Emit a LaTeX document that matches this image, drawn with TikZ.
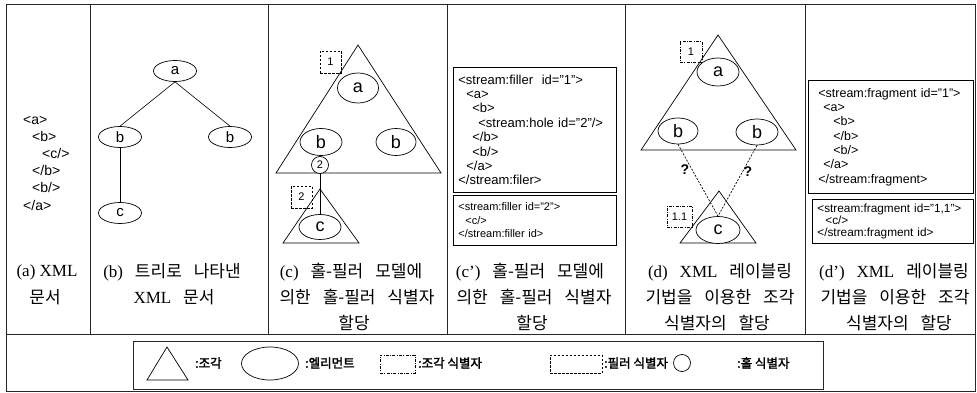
\documentclass[tikz,border=0pt]{standalone}
\usepackage{fontspec}
\setmainfont{Liberation Serif}
\setsansfont{Liberation Sans}
\newfontfamily\kr{Noto Sans CJK KR}
\newfontfamily\krbold{Noto Sans CJK KR}[FakeBold=2]
\usetikzlibrary{shapes.geometric}
\newcommand\capfnt{\fontsize{17}{20}\selectfont}
\newcommand\ks{\hspace{0.7em}}
\newcommand\kc[1]{{\kr #1}}
\tikzset{
  frameline/.style={line width=1pt, black!85},
  elem/.style={draw, ellipse, fill=white, inner sep=0pt, line width=0.7pt, font=\sffamily\fontsize{18}{18}\selectfont},
  smallelem/.style={elem, font=\sffamily\fontsize{15}{15}\selectfont},
  hole/.style={draw, circle, fill=white, inner sep=0pt, minimum size=17pt, line width=0.7pt, font=\sffamily\fontsize{11}{11}\selectfont},
  fillerid/.style={draw, dash pattern=on 2.5pt off 1.5pt, inner sep=0pt, line width=0.6pt, font=\sffamily\fontsize{11}{11}\selectfont},
  fragid/.style={draw, dash pattern=on 3pt off 1.3pt on 1pt off 1.3pt, inner sep=0pt, line width=0.6pt, font=\sffamily\fontsize{11}{11}\selectfont},
  frag/.style={line width=0.7pt, line join=miter},
  codebox/.style={draw, line width=0.8pt, anchor=north west, align=left, inner ysep=0pt},
  captext/.style={inner sep=0pt, font=\capfnt},
  legtext/.style={anchor=west, inner sep=0pt, font=\krbold\fontsize{12.5}{12.5}\selectfont},
  qmark/.style={font=\sffamily\bfseries\fontsize{14}{14}\selectfont, inner sep=0pt},
  xmltext/.style={anchor=west, align=left, inner sep=0pt, font=\sffamily\fontsize{14}{17.2}\selectfont},
  treeline/.style={line width=0.6pt},
  guessline/.style={line width=0.7pt, dash pattern=on 2pt off 1.5pt},
}
\begin{document}
\begin{tikzpicture}[x=1pt,y=-1pt]
\useasboundingbox (0,0) rectangle (977,393);
\fill[white] (0,0) rectangle (977,393);
% frame
\draw[frameline] (6,5) rectangle (975,391);
\draw[frameline] (6,334) -- (975,334);
\foreach \x in {90,268,447,625,805} \draw[frameline] (\x,5) -- (\x,334);

% (a)
\node[xmltext] (xa) at (23,163) {<a>\\\hspace*{9pt}<b>\\\hspace*{19pt}<c/>\\\hspace*{9pt}</b>\\\hspace*{9pt}<b/>\\</a>};
\node[captext] (capa1) at (47,272) {(a) XML};
\node[captext] (capa2) at (45,297) {\kc{문서}};

% (b)
\node[smallelem, minimum width=43pt, minimum height=21pt] (ba) at (175,71) {a};
\node[smallelem, minimum width=43pt, minimum height=21pt] (bb1) at (120,137) {b};
\node[smallelem, minimum width=43pt, minimum height=21pt] (bb2) at (230,137) {b};
\node[smallelem, minimum width=43pt, minimum height=21pt] (bc) at (120,213) {c};
\draw[treeline] (ba.south) -- (bb1.north);
\draw[treeline] (ba.south) -- (bb2.north);
\draw[treeline] (bb1.south) -- (bc.north);
\node[captext] (capb1) at (172,272) {(b)\ks\kc{트리로\ks 나타낸}};
\node[captext] (capb2) at (174,297) {XML\ks\kc{문서}};

% (c)
\draw[frag] (358,45) -- (276,173) -- (441,173) -- cycle;
\draw[frag] (320,189) -- (283,243) -- (359,243) -- cycle;
\node[fillerid, minimum width=21pt, minimum height=22pt] (cf1) at (330.5,62) {1};
\node[fillerid, minimum width=21pt, minimum height=22pt] (cf2) at (301.5,197) {2};
\node[elem, minimum width=41pt, minimum height=30pt] (ca) at (358,88) {a};
\node[elem, minimum width=42pt, minimum height=27pt] (cb1) at (321,142) {b};
\node[elem, minimum width=40pt, minimum height=27pt] (cb2) at (396,142) {b};
\node[elem, minimum width=42pt, minimum height=25pt] (cc) at (320,227) {c};
\node[hole] (ch) at (320,165) {2};
\draw[treeline] (ch.south) -- (cc.north);
\node[captext] (capc1) at (351,272) {(c)\ks\kc{홀-필러\ks 모델에}};
\node[captext] (capc2) at (357,297) {\kc{의한\ks 홀-필러\ks 식별자}};
\node[captext] (capc3) at (354,323) {\kc{할당}};

% (c')
\node[codebox, inner xsep=5pt, text width=153pt, minimum height=125pt, font=\sffamily\fontsize{13}{14.4}\selectfont] (cp1) at (453,67)
 {<stream:filler\ \ id="1">\\\hspace*{8pt}<a>\\\hspace*{14pt}<b>\\\hspace*{20pt}<stream:hole id="2"/>\\\hspace*{14pt}</b>\\\hspace*{14pt}<b/>\\\hspace*{8pt}</a>\\</stream:filer>};
\node[codebox, inner xsep=5pt, text width=153pt, minimum height=50pt, font=\sffamily\fontsize{11}{13.5}\selectfont] (cp2) at (453,195)
 {<stream:filler id="2">\\\hspace*{7pt}<c/>\\</stream:filler id>};
\node[captext] (capcp1) at (530,272) {(c')\ks\kc{홀-필러\ks 모델에}};
\node[captext] (capcp2) at (534,297) {\kc{의한\ks 홀-필러\ks 식별자}};
\node[captext] (capcp3) at (532,323) {\kc{할당}};

% (d)
\draw[frag] (718,35) -- (641,150) -- (796,150) -- cycle;
\draw[frag] (719,191) -- (680,243) -- (756,243) -- cycle;
\node[fragid, minimum width=22pt, minimum height=21pt] (df1) at (691,52) {1};
\node[fragid, minimum width=25pt, minimum height=21pt] (df11) at (679.5,216.5) {1.1};
\node[elem, minimum width=42pt, minimum height=28pt] (da) at (718,72) {a};
\node[elem, minimum width=40pt, minimum height=26pt] (db1) at (678,131) {b};
\node[elem, minimum width=42pt, minimum height=26pt] (db2) at (757,132) {b};
\node[elem, minimum width=44pt, minimum height=27pt] (dc) at (718,230) {c};
\draw[guessline] (db1.south) -- (dc.north);
\draw[guessline] (db2.south) -- (dc.north);
\node[qmark] (dq1) at (685,170) {?};
\node[qmark] (dq2) at (748,172) {?};
\node[captext] (capd1) at (720,272) {(d)\ks XML\ks\kc{레이블링}};
\node[captext] (capd2) at (720,297) {\kc{기법을\ks 이용한\ks 조각}};
\node[captext] (capd3) at (717,323) {\kc{식별자의\ks 할당}};

% (d')
\node[codebox, inner xsep=10pt, text width=145pt, minimum height=113pt, font=\sffamily\fontsize{12.5}{14.3}\selectfont] (dp1) at (808,80)
 {<stream:fragment id="1">\\\hspace*{5pt}<a>\\\hspace*{15pt}<b>\\\hspace*{15pt}</b>\\\hspace*{15pt}<b/>\\\hspace*{5pt}</a>\\</stream:fragment>};
\node[codebox, inner xsep=5pt, text width=151pt, minimum height=44pt, font=\sffamily\fontsize{11.8}{12}\selectfont] (dp2) at (812,199)
 {<stream:fragment id="1,1">\\\hspace*{8pt}<c/>\\</stream:fragment id>};
\node[captext] (capdp1) at (894,272) {(d')\ks XML\ks\kc{레이블링}};
\node[captext] (capdp2) at (895,297) {\kc{기법을\ks 이용한\ks 조각}};
\node[captext] (capdp3) at (899,323) {\kc{식별자의\ks 할당}};

% legend
\draw[frameline] (133,341) rectangle (823,389);
\draw[frag] (167,347) -- (147,380) -- (188,380) -- cycle;
\node[legtext] (l1) at (195,363) {:조각};
\node[draw, ellipse, line width=0.7pt, minimum width=57pt, minimum height=33pt] (lel) at (270,363.5) {};
\node[legtext] (l2) at (305,363) {:엘리먼트};
\node[fragid, minimum width=35pt, minimum height=18pt] (lfr) at (397.5,364) {};
\node[legtext] (l3) at (418,363) {:조각 식별자};
\node[fillerid, minimum width=52pt, minimum height=18pt] (lfi) at (576,364) {};
\node[legtext] (l4) at (604,363) {:필러 식별자};
\node[hole] (lho) at (682,363) {};
\node[legtext] (l5) at (737,363) {:홀 식별자};
\end{tikzpicture}
\end{document}
